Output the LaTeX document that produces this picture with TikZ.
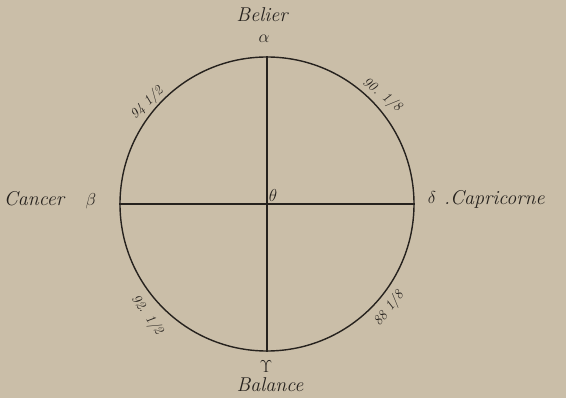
\documentclass[tikz,border=0pt]{standalone}
\usepackage{xcolor}
\usepackage{tikz}
\usetikzlibrary{positioning}

\definecolor{paper}{RGB}{202,190,168}
\definecolor{ink}{RGB}{38,34,30}

\begin{document}
\begin{tikzpicture}[x=1pt, y=-1pt, every node/.style={text=ink, inner sep=0pt}]
    % Styles
    \tikzstyle{sign} = [font=\fontsize{20}{22}\selectfont\itshape]
    \tikzstyle{letter} = [font=\fontsize{18}{20}\selectfont]
    \tikzstyle{degree} = [font=\fontsize{14}{16}\selectfont\itshape]
    \tikzstyle{axis} = [draw=ink, line width=1.4pt]

    % Paper
    \fill[paper] (0,0) rectangle (566,398);
    \useasboundingbox (0,0) rectangle (566,398);

    % Circle
    \node[circle, axis, minimum size=294pt] (disc) at (267,204) {};

    % Nodes
    \node[letter] (alpha) at (264,39) {$\alpha$};
    \node[sign] (belier) at (262,15) {Belier};
    \node[letter] (beta) at (91,201) {$\beta$};
    \node[sign] (cancer) at (34,199) {Cancer};
    \node[letter] (delta) at (432,198) {$\delta$};
    \node[sign, anchor=west] (capricorne) at (444,199) {.Capricorne};
    \node[letter] (gamma) at (266,367) {$\Upsilon$};
    \node[sign] (balance) at (270,385) {Balance};
    \node[letter] (theta) at (273,196) {$\theta$};

    \node[degree, rotate=45] (deg1) at (147,103) {94 1/2};
    \node[degree, rotate=-38] (deg2) at (382,95) {90. 1/8};
    \node[degree, rotate=-55] (deg3) at (147,315) {92. 1/2};
    \node[degree, rotate=52] (deg4) at (389,309) {88 1/8};

    % Connections
    \draw[axis] (disc.north) -- (disc.south);
    \draw[axis] (disc.west) -- (disc.east);
\end{tikzpicture}
\end{document}
